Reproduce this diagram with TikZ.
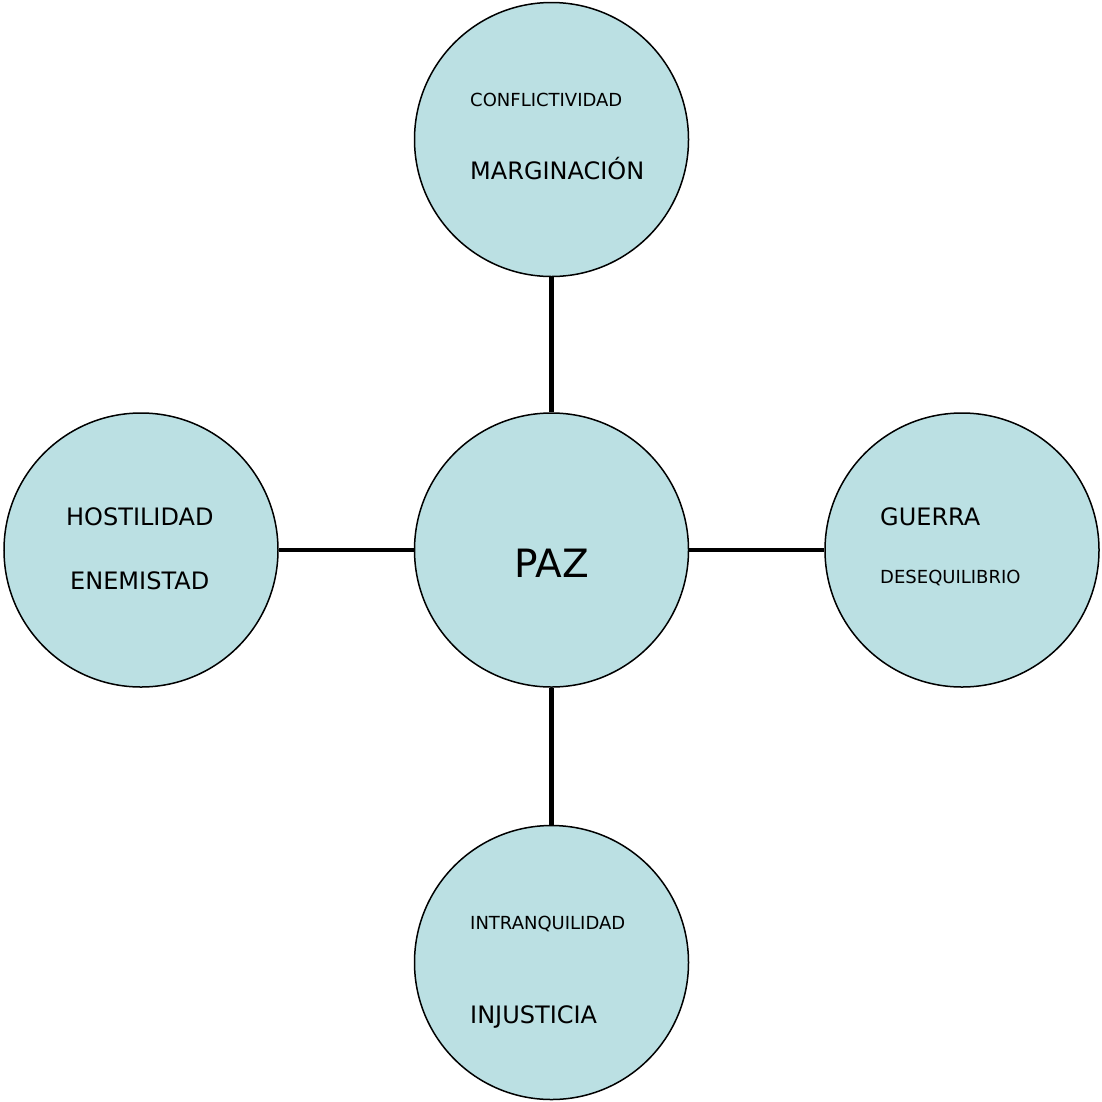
\documentclass[tikz,border=0pt]{standalone}
\usepackage{fontspec}
\setmainfont{DejaVu Sans}
\definecolor{cfill}{HTML}{BBE0E3}
\begin{document}
\begin{tikzpicture}[x=1pt,y=-1pt,
  bubble/.style={circle,draw=black,line width=1.5pt,fill=cfill,minimum size=274pt,inner sep=0pt},
  link/.style={line width=4.8pt,black},
  big/.style={anchor=base west,inner sep=0pt,font=\fontsize{24}{24}\selectfont},
  small/.style={anchor=base west,inner sep=0pt,font=\fontsize{18}{18}\selectfont}]
\useasboundingbox (0,0) rectangle (1102,1101);
\node[bubble] (top) at (551.5,139.5) {};
\node[bubble] (paz) at (551.5,550) {};
\node[bubble] (left) at (141,550) {};
\node[bubble] (right) at (962,550) {};
\node[bubble] (bottom) at (551.5,962.5) {};
\draw[link] (top) -- (paz);
\draw[link] (left) -- (paz);
\draw[link] (right) -- (paz);
\draw[link] (bottom) -- (paz);
\node[anchor=base,inner sep=0pt,font=\fontsize{39}{39}\selectfont] (pazt) at (552,577.2) {PAZ};
\node[small] (t1) at (470,106.6) {CONFLICTIVIDAD};
\node[big] (t2) at (470,179.7) {MARGINACIÓN};
\node[big] (l1) at (66,525.7) {HOSTILIDAD};
\node[big] (l2) at (70,589.7) {ENEMISTAD};
\node[big] (r1) at (880,525.7) {GUERRA};
\node[small] (r2) at (880,583.6) {DESEQUILIBRIO};
\node[small] (b1) at (470,929.6) {INTRANQUILIDAD};
\node[big] (b2) at (470,1023.7) {INJUSTICIA};
\end{tikzpicture}
\end{document}
